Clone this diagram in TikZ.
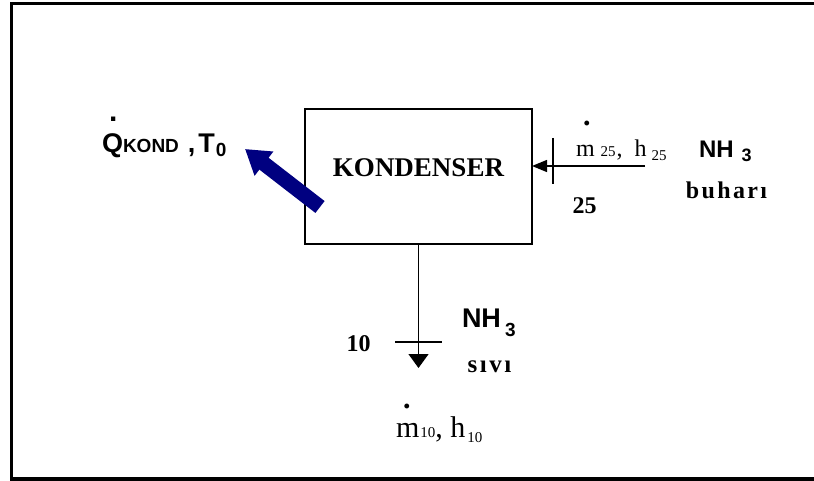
\documentclass[tikz,border=0pt]{standalone}
\usepackage{fontspec}
\setmainfont{Liberation Serif}
\newfontfamily\arialfont{Liberation Sans}
\usepackage{xcolor}
\usetikzlibrary{arrows.meta,positioning}
\definecolor{navy}{RGB}{0,0,128}
\newcommand{\fdot}[2]{\makebox[0pt][l]{\hspace{#1}\raisebox{#2}{\bfseries\fontsize{30}{30}\selectfont .}}}

\begin{document}
\begin{tikzpicture}[
      x=1pt, y=-1pt,
      every node/.style={inner sep=0pt, outer sep=0pt},
      unit/.style={draw, line width=1.3pt, minimum width=227pt, minimum height=135pt},
      flow/.style={line width=1.3pt},
      heat/.style={draw=navy, line width=15pt, -{Triangle[length=24pt, width=29pt]}},
      serifbf/.style={font=\bfseries\fontsize{24}{24}\selectfont}
    ]
    \useasboundingbox (0,0) rectangle (814,481);
    % outer frame (right side runs off the page)
    \draw[line width=3.5pt] (11.5,3.5) rectangle (830,479);
    % condenser
    \node[unit] (kond) at (418.5,176.5) {};
    \node[anchor=base, font=\bfseries\fontsize{27}{27}\selectfont] (kondtext) at (418.5,177) {KONDENSER};
    % stream 25 (ammonia vapour in)
    \coordinate (in25) at (645,166);
    \draw[flow, -{Triangle[length=15pt, width=12pt]}] (in25) -- (kond.east |- in25);
    \coordinate (t25a) at (553,138);
    \coordinate (t25b) at (553,184);
    \draw[flow] (t25a) -- (t25b);
    \node[anchor=base west, font=\fontsize{24}{24}\selectfont] (m25) at (576,157)
      {\fdot{7pt}{31pt}m\kern6pt{\fontsize{15}{15}\selectfont 25}\kern1pt,\kern12pt h\kern5pt\raisebox{-4pt}{\fontsize{15}{15}\selectfont 25}};
    \node[anchor=base, serifbf] (n25) at (584.5,214) {25};
    \node[anchor=base west, font=\arialfont\bfseries\fontsize{24}{24}\selectfont] (nh3in) at (699,158)
      {NH\kern8pt\raisebox{-4pt}{\fontsize{18}{18}\selectfont 3}};
    \node[anchor=base, font=\bfseries\fontsize{24}{24}\selectfont\addfontfeatures{LetterSpace=10}] (buhar) at (726.5,199) {buharı};
    % stream 10 (ammonia liquid out)
    \coordinate (out10) at (418.5,368);
    \draw[flow, -{Triangle[length=14pt, width=20pt]}] (kond.south) -- (out10);
    \coordinate (t10a) at (395,342);
    \coordinate (t10b) at (442,342);
    \draw[flow] (t10a) -- (t10b);
    \node[anchor=base, serifbf] (n10) at (358.5,351) {10};
    \node[anchor=base west, font=\arialfont\bfseries\fontsize{27}{27}\selectfont] (nh3out) at (462,327)
      {NH\kern4pt\raisebox{-9pt}{\fontsize{19}{19}\selectfont 3}};
    \node[anchor=base, font=\bfseries\fontsize{25}{25}\selectfont\addfontfeatures{LetterSpace=10}] (sivi) at (489.5,372) {sıvı};
    \node[anchor=base west, font=\fontsize{30}{30}\selectfont] (m10) at (396,437)
      {\fdot{7pt}{29pt}m\kern1pt{\fontsize{15}{15}\selectfont 10}, h\kern2pt\raisebox{-5pt}{\fontsize{15}{15}\selectfont 10}};
    % heat rejected
    \coordinate (qtail) at (320,207);
    \coordinate (qtip) at (245,149);
    \draw[heat] (qtail) -- (qtip);
    \node[anchor=base west, font=\arialfont\bfseries\fontsize{27}{27}\selectfont] (qkond) at (102,153)
      {\fdot{7pt}{31pt}Q{\fontsize{19}{19}\selectfont KOND}\kern9pt,\kern3pt T\kern1pt\raisebox{-4pt}{\fontsize{19}{19}\selectfont 0}};
  \end{tikzpicture}
\end{document}
